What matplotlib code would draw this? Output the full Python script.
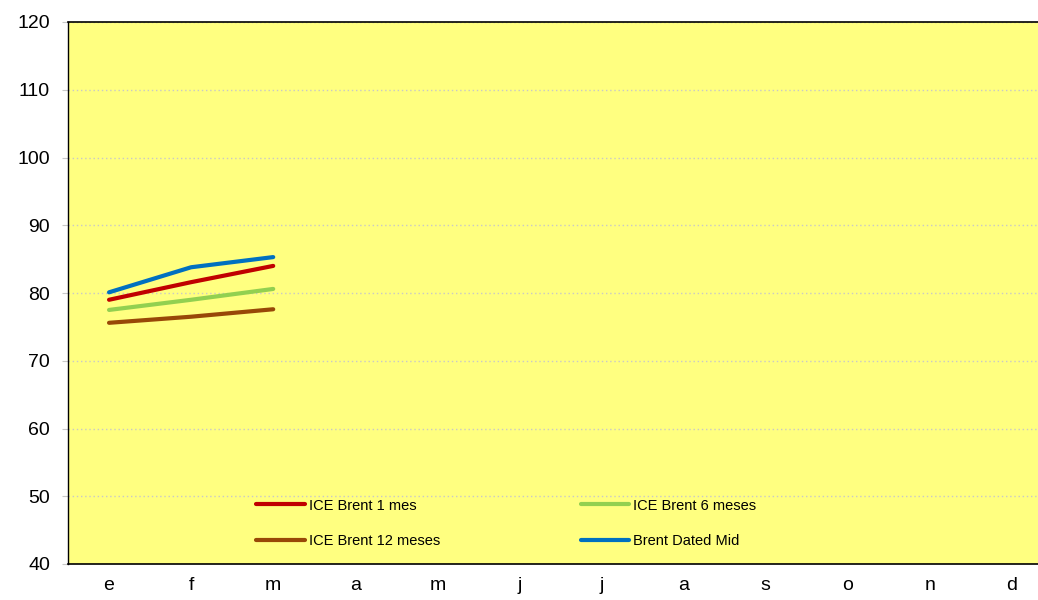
import matplotlib
matplotlib.use('agg')
import matplotlib.pyplot as plt

## data
months = ['e', 'f', 'm', 'a', 'm', 'j', 'j', 'a', 's', 'o', 'n', 'd']
brent_1m = [79.0, 81.6, 84.0]
brent_6m = [77.5, 79.0, 80.6]
brent_12m = [75.6, 76.5, 77.6]
brent_dated = [80.1, 83.8, 85.3]

plt.rcParams['font.family'] = ['Liberation Sans', 'DejaVu Sans']

fig = plt.figure(figsize=(10.38, 6), dpi=100)
ax = fig.add_axes([68/1038., 1-564/600., 985/1038., 542/600.])
ax.set_facecolor('#FFFF80')

x = range(len(brent_1m))
ax.plot(x, brent_1m, color='#C00000', lw=3, solid_capstyle='round', label='ICE Brent 1 mes')
ax.plot(x, brent_12m, color='#984807', lw=3, solid_capstyle='round', label='ICE Brent 12 meses')
ax.plot(x, brent_6m, color='#92D050', lw=3, solid_capstyle='round', label='ICE Brent 6 meses')
ax.plot(x, brent_dated, color='#0070C0', lw=3, solid_capstyle='round', label='Brent Dated Mid')

ax.set_xlim(-0.5, len(months)-0.5)
ax.set_ylim(40, 120)
ax.set_yticks(range(40, 121, 10))
ax.set_xticks(range(len(months)))
ax.set_xticklabels(months)
ax.yaxis.grid(True, color='#C8C8C8', linestyle=(0, (1, 2)), lw=1)
ax.set_axisbelow(True)
ax.tick_params(axis='x', length=0, labelsize=14, pad=9)
ax.tick_params(axis='y', length=4, color='#C8C8C8', labelsize=14, pad=9)

ax.spines['right'].set_visible(False)
ax.spines['left'].set_linestyle((0, (1, 1)))
ax.spines['left'].set_linewidth(1.0)
ax.spines['top'].set_linewidth(1.2)
ax.spines['bottom'].set_linewidth(1.2)

ax.legend(loc='upper left', bbox_to_anchor=(0.178, 0.145), ncol=2, frameon=False,
	fontsize=10.5, handlelength=3.3, handletextpad=0.27, columnspacing=9.7, labelspacing=1.45)

fig.savefig('out.png', dpi=100)
